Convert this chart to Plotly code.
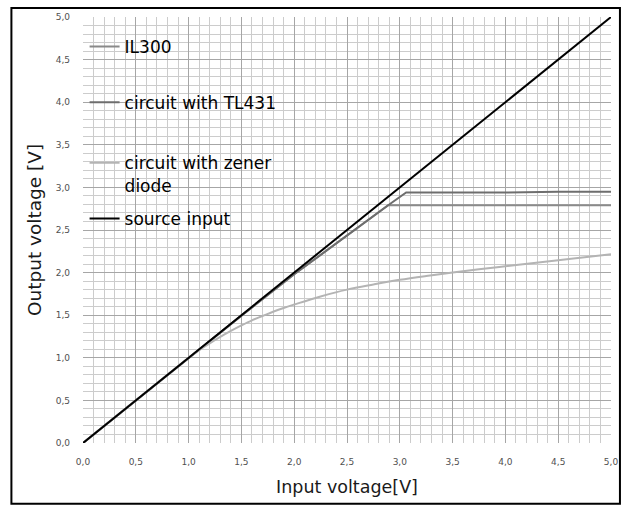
import plotly.graph_objects as go

# ---- data ----
source_x = [0.0, 5.0]
source_y = [0.0, 5.0]

il300_x = [0.0, 0.5, 1.0, 1.5, 2.0, 2.5, 2.89, 3.0, 3.5, 4.0, 4.5, 5.0]
il300_y = [0.0, 0.5, 1.0, 1.495, 1.98, 2.44, 2.79, 2.79, 2.79, 2.79, 2.79, 2.79]

tl431_x = [0.0, 0.5, 1.0, 1.5, 2.0, 2.5, 2.89, 3.06, 3.5, 4.0, 4.5, 5.0]
tl431_y = [0.0, 0.5, 1.0, 1.495, 1.98, 2.44, 2.79, 2.94, 2.94, 2.94, 2.95, 2.95]

zener_x = [0.0, 0.5, 1.0, 1.1, 1.2, 1.3, 1.4, 1.5, 1.6, 1.7, 1.8, 1.9, 2.0,
           2.25, 2.5, 2.75, 3.0, 3.25, 3.5, 3.75, 4.0, 4.25, 4.5, 4.75, 5.0]
zener_y = [0.0, 0.5, 1.0, 1.09, 1.17, 1.245, 1.315, 1.38, 1.44, 1.49, 1.54, 1.585, 1.625,
           1.72, 1.80, 1.86, 1.915, 1.96, 2.00, 2.04, 2.075, 2.11, 2.145, 2.18, 2.215]

tick_vals = [0.0, 0.5, 1.0, 1.5, 2.0, 2.5, 3.0, 3.5, 4.0, 4.5, 5.0]

names = ["IL300", "circuit with TL431", "circuit with zener<br>diode", "source input"]
colors = ["#8a8a8a", "#6e6e6e", "#b4b4b4", "#000000"]

fig = go.Figure()
series = [(il300_x, il300_y, "linear"), (tl431_x, tl431_y, "linear"),
          (zener_x, zener_y, "spline"), (source_x, source_y, "linear")]
legends = ["legend", "legend2", "legend3", "legend4"]
for (xs, ys, shp), nm, c, lg in zip(series, names, colors, legends):
    fig.add_trace(go.Scatter(x=xs, y=ys, mode="lines", name=nm,
                             line=dict(color=c, width=2, shape=shp), legend=lg))

H = 428.0
def py(p):
    return (443 - p) / H

FONT = "DejaVu Sans, Verdana, sans-serif"
leg_font = dict(family=FONT, size=17, color="#000000")
common = dict(x=0.003, xanchor="left", yanchor="middle", bgcolor="rgba(0,0,0,0)",
              font=leg_font, itemwidth=30, tracegroupgap=0)

fig.update_layout(
    width=630, height=507,
    margin=dict(l=83, r=16, t=15, b=64),
    paper_bgcolor="white", plot_bgcolor="white",
    separators=",.",
    showlegend=True,
    legend=dict(y=py(45), **common),
    legend2=dict(y=py(101), **common),
    legend3=dict(y=py(173), valign="top", **common),
    legend4=dict(y=py(218), **common),
    xaxis=dict(range=[0, 5], tickvals=tick_vals, tickformat=".1f",
               showgrid=True, gridcolor="#a6a6a6", gridwidth=1,
               minor=dict(dtick=0.1, showgrid=True, gridcolor="#cccccc", gridwidth=1),
               zeroline=False, showline=False, ticks="", ticklabelstandoff=12,
               tickfont=dict(family=FONT, size=9, color="#505050"),
               title=dict(text="Input voltage[V]", standoff=14,
                          font=dict(family=FONT, size=17.5, color="#1a1a1a"))),
    yaxis=dict(range=[0, 5], tickvals=tick_vals, tickformat=".1f",
               showgrid=True, gridcolor="#a6a6a6", gridwidth=1,
               minor=dict(dtick=0.1, showgrid=True, gridcolor="#cccccc", gridwidth=1),
               zeroline=False, showline=False, ticks="", ticklabelstandoff=12,
               tickfont=dict(family=FONT, size=9, color="#505050"),
               title=dict(text="Output voltage [V]", standoff=9,
                          font=dict(family=FONT, size=18.5, color="#1a1a1a"))),
    shapes=[dict(type="rect", xref="paper", yref="paper",
                 x0=(11 - 83) / 531.0, x1=(623 - 83) / 531.0,
                 y0=py(504), y1=py(6),
                 line=dict(color="#000000", width=2), fillcolor="rgba(0,0,0,0)",
                 layer="above")],
)

fig.write_html("out.html",
               config={"displayModeBar": False},
               post_script="document.body.style.margin='0';document.body.style.overflow='hidden';")
